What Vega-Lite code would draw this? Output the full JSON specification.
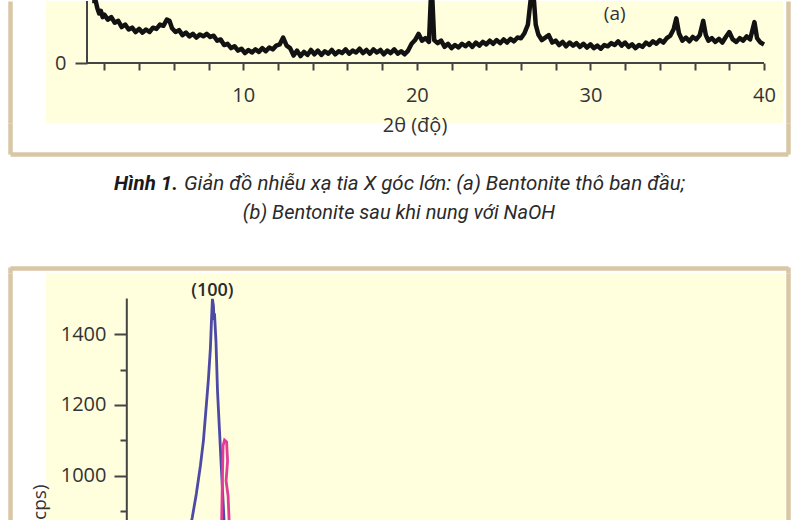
{
"$schema": "https://vega.github.io/schema/vega-lite/v6.json",
"background": "#ffffff",
"padding": {"left": 10, "top": -2, "right": 0, "bottom": 0},
"bounds": "flush",
"spacing": 0,
"config": {"view": {"stroke": null}, "axis": {"minExtent": 0, "grid": false}, "font": "Open Sans"},
"datasets": {
"xrd": [
{"two_theta":1.3,"intensity":130},{"two_theta":1.4,"intensity":112},{"two_theta":1.5,"intensity":100},{"two_theta":1.6,"intensity":88},{"two_theta":1.7,"intensity":80},{"two_theta":1.8,"intensity":84},{"two_theta":1.9,"intensity":74},{"two_theta":2.0,"intensity":78},{"two_theta":2.2,"intensity":70},{"two_theta":2.4,"intensity":74},{"two_theta":2.6,"intensity":65},{"two_theta":2.8,"intensity":68},{"two_theta":3.0,"intensity":58},{"two_theta":3.2,"intensity":62},{"two_theta":3.4,"intensity":54},{"two_theta":3.6,"intensity":57},{"two_theta":3.8,"intensity":50},{"two_theta":4.0,"intensity":55},{"two_theta":4.2,"intensity":49},{"two_theta":4.4,"intensity":54},{"two_theta":4.6,"intensity":50},{"two_theta":4.8,"intensity":57},{"two_theta":5.0,"intensity":55},{"two_theta":5.2,"intensity":62},{"two_theta":5.4,"intensity":60},{"two_theta":5.6,"intensity":70},{"two_theta":5.75,"intensity":68},{"two_theta":5.9,"intensity":56},{"two_theta":6.1,"intensity":50},{"two_theta":6.3,"intensity":53},{"two_theta":6.5,"intensity":45},{"two_theta":6.7,"intensity":49},{"two_theta":6.9,"intensity":43},{"two_theta":7.1,"intensity":47},{"two_theta":7.3,"intensity":41},{"two_theta":7.5,"intensity":46},{"two_theta":7.7,"intensity":43},{"two_theta":7.9,"intensity":47},{"two_theta":8.1,"intensity":42},{"two_theta":8.3,"intensity":44},{"two_theta":8.5,"intensity":36},{"two_theta":8.7,"intensity":38},{"two_theta":8.9,"intensity":29},{"two_theta":9.1,"intensity":31},{"two_theta":9.3,"intensity":24},{"two_theta":9.5,"intensity":27},{"two_theta":9.7,"intensity":20},{"two_theta":9.9,"intensity":23},{"two_theta":10.1,"intensity":16},{"two_theta":10.3,"intensity":21},{"two_theta":10.5,"intensity":17},{"two_theta":10.7,"intensity":22},{"two_theta":10.9,"intensity":18},{"two_theta":11.1,"intensity":24},{"two_theta":11.3,"intensity":19},{"two_theta":11.5,"intensity":25},{"two_theta":11.7,"intensity":22},{"two_theta":11.9,"intensity":28},{"two_theta":12.1,"intensity":30},{"two_theta":12.3,"intensity":41},{"two_theta":12.5,"intensity":28},{"two_theta":12.7,"intensity":24},{"two_theta":12.9,"intensity":12},{"two_theta":13.1,"intensity":20},{"two_theta":13.3,"intensity":11},{"two_theta":13.5,"intensity":18},{"two_theta":13.7,"intensity":13},{"two_theta":13.9,"intensity":21},{"two_theta":14.1,"intensity":14},{"two_theta":14.3,"intensity":20},{"two_theta":14.5,"intensity":13},{"two_theta":14.7,"intensity":19},{"two_theta":14.9,"intensity":15},{"two_theta":15.1,"intensity":21},{"two_theta":15.3,"intensity":14},{"two_theta":15.5,"intensity":19},{"two_theta":15.7,"intensity":16},{"two_theta":15.9,"intensity":22},{"two_theta":16.1,"intensity":15},{"two_theta":16.3,"intensity":20},{"two_theta":16.5,"intensity":17},{"two_theta":16.7,"intensity":23},{"two_theta":16.9,"intensity":16},{"two_theta":17.1,"intensity":21},{"two_theta":17.3,"intensity":15},{"two_theta":17.5,"intensity":22},{"two_theta":17.7,"intensity":17},{"two_theta":17.9,"intensity":21},{"two_theta":18.1,"intensity":14},{"two_theta":18.3,"intensity":20},{"two_theta":18.5,"intensity":16},{"two_theta":18.7,"intensity":22},{"two_theta":18.9,"intensity":15},{"two_theta":19.1,"intensity":19},{"two_theta":19.3,"intensity":14},{"two_theta":19.5,"intensity":20},{"two_theta":19.7,"intensity":31},{"two_theta":19.9,"intensity":37},{"two_theta":20.1,"intensity":47},{"two_theta":20.3,"intensity":36},{"two_theta":20.5,"intensity":40},{"two_theta":20.7,"intensity":34},{"two_theta":20.8,"intensity":120},{"two_theta":20.85,"intensity":200},{"two_theta":20.9,"intensity":120},{"two_theta":21.0,"intensity":37},{"two_theta":21.2,"intensity":32},{"two_theta":21.4,"intensity":36},{"two_theta":21.6,"intensity":26},{"two_theta":21.8,"intensity":31},{"two_theta":22.0,"intensity":24},{"two_theta":22.2,"intensity":29},{"two_theta":22.4,"intensity":25},{"two_theta":22.6,"intensity":31},{"two_theta":22.8,"intensity":27},{"two_theta":23.0,"intensity":32},{"two_theta":23.2,"intensity":26},{"two_theta":23.4,"intensity":33},{"two_theta":23.6,"intensity":28},{"two_theta":23.8,"intensity":34},{"two_theta":24.0,"intensity":30},{"two_theta":24.2,"intensity":36},{"two_theta":24.4,"intensity":31},{"two_theta":24.6,"intensity":37},{"two_theta":24.8,"intensity":32},{"two_theta":25.0,"intensity":38},{"two_theta":25.2,"intensity":33},{"two_theta":25.4,"intensity":39},{"two_theta":25.6,"intensity":35},{"two_theta":25.8,"intensity":41},{"two_theta":26.0,"intensity":40},{"two_theta":26.2,"intensity":48},{"two_theta":26.4,"intensity":62},{"two_theta":26.55,"intensity":110},{"two_theta":26.65,"intensity":300},{"two_theta":26.75,"intensity":110},{"two_theta":26.85,"intensity":62},{"two_theta":27.0,"intensity":46},{"two_theta":27.2,"intensity":37},{"two_theta":27.4,"intensity":41},{"two_theta":27.6,"intensity":45},{"two_theta":27.8,"intensity":33},{"two_theta":28.0,"intensity":36},{"two_theta":28.2,"intensity":29},{"two_theta":28.4,"intensity":34},{"two_theta":28.6,"intensity":27},{"two_theta":28.8,"intensity":33},{"two_theta":29.0,"intensity":28},{"two_theta":29.2,"intensity":32},{"two_theta":29.4,"intensity":26},{"two_theta":29.6,"intensity":31},{"two_theta":29.8,"intensity":25},{"two_theta":30.0,"intensity":30},{"two_theta":30.2,"intensity":24},{"two_theta":30.4,"intensity":28},{"two_theta":30.6,"intensity":23},{"two_theta":30.8,"intensity":29},{"two_theta":31.0,"intensity":27},{"two_theta":31.2,"intensity":32},{"two_theta":31.4,"intensity":29},{"two_theta":31.6,"intensity":35},{"two_theta":31.8,"intensity":28},{"two_theta":32.0,"intensity":33},{"two_theta":32.2,"intensity":26},{"two_theta":32.4,"intensity":30},{"two_theta":32.6,"intensity":24},{"two_theta":32.8,"intensity":29},{"two_theta":33.0,"intensity":26},{"two_theta":33.2,"intensity":33},{"two_theta":33.4,"intensity":29},{"two_theta":33.6,"intensity":35},{"two_theta":33.8,"intensity":31},{"two_theta":34.0,"intensity":37},{"two_theta":34.2,"intensity":33},{"two_theta":34.4,"intensity":40},{"two_theta":34.6,"intensity":44},{"two_theta":34.8,"intensity":55},{"two_theta":34.95,"intensity":72},{"two_theta":35.1,"intensity":48},{"two_theta":35.3,"intensity":36},{"two_theta":35.5,"intensity":41},{"two_theta":35.7,"intensity":35},{"two_theta":35.9,"intensity":42},{"two_theta":36.1,"intensity":38},{"two_theta":36.3,"intensity":45},{"two_theta":36.5,"intensity":68},{"two_theta":36.65,"intensity":45},{"two_theta":36.8,"intensity":36},{"two_theta":37.0,"intensity":40},{"two_theta":37.2,"intensity":34},{"two_theta":37.4,"intensity":39},{"two_theta":37.6,"intensity":33},{"two_theta":37.8,"intensity":42},{"two_theta":38.0,"intensity":50},{"two_theta":38.2,"intensity":38},{"two_theta":38.4,"intensity":34},{"two_theta":38.6,"intensity":40},{"two_theta":38.8,"intensity":36},{"two_theta":39.0,"intensity":43},{"two_theta":39.2,"intensity":38},{"two_theta":39.45,"intensity":66},{"two_theta":39.6,"intensity":40},{"two_theta":39.8,"intensity":33},{"two_theta":40.0,"intensity":30}
],
"saxs": [
{"sample":"A","i":1,"two_theta":1.844,"intensity":845},{"sample":"A","i":2,"two_theta":1.885,"intensity":882},{"sample":"A","i":3,"two_theta":1.94,"intensity":949},{"sample":"A","i":4,"two_theta":1.995,"intensity":1028},{"sample":"A","i":5,"two_theta":2.036,"intensity":1099},{"sample":"A","i":6,"two_theta":2.077,"intensity":1203},{"sample":"A","i":7,"two_theta":2.104,"intensity":1273},{"sample":"A","i":8,"two_theta":2.131,"intensity":1361},{"sample":"A","i":9,"two_theta":2.145,"intensity":1437},{"sample":"A","i":10,"two_theta":2.158,"intensity":1499},{"sample":"A","i":11,"two_theta":2.172,"intensity":1479},{"sample":"A","i":12,"two_theta":2.179,"intensity":1440},{"sample":"A","i":13,"two_theta":2.186,"intensity":1458},{"sample":"A","i":14,"two_theta":2.206,"intensity":1380},{"sample":"A","i":15,"two_theta":2.227,"intensity":1239},{"sample":"A","i":16,"two_theta":2.254,"intensity":1127},{"sample":"A","i":17,"two_theta":2.281,"intensity":1014},{"sample":"A","i":18,"two_theta":2.309,"intensity":901},{"sample":"A","i":19,"two_theta":2.322,"intensity":845},
{"sample":"B","i":1,"two_theta":2.281,"intensity":845},{"sample":"B","i":2,"two_theta":2.295,"intensity":1014},{"sample":"B","i":3,"two_theta":2.302,"intensity":1085},{"sample":"B","i":4,"two_theta":2.322,"intensity":1101},{"sample":"B","i":5,"two_theta":2.35,"intensity":1096},{"sample":"B","i":6,"two_theta":2.363,"intensity":1042},{"sample":"B","i":7,"two_theta":2.343,"intensity":986},{"sample":"B","i":8,"two_theta":2.37,"intensity":944},{"sample":"B","i":9,"two_theta":2.384,"intensity":873},{"sample":"B","i":10,"two_theta":2.391,"intensity":845}
],
"caption": [
{"line":1,"seg":"lead","text":"Hình 1."},
{"line":1,"seg":"body","text":"Giản đồ nhiễu xạ tia X góc lớn: (a) Bentonite thô ban đầu;"},
{"line":2,"seg":"body","text":"(b) Bentonite sau khi nung với NaOH"}
]
},
"vconcat": [
{
 "width": 737, "height": 122,
 "view": {"fill": "#fffedd", "stroke": null},
 "layer": [
  {"data": {"name": "xrd"},
   "mark": {"type": "line", "color": "#121212", "strokeWidth": 4.5, "strokeJoin": "round"},
   "encoding": {
    "x": {"field": "two_theta", "type": "quantitative", "scale": {"domain": [-1.362, 41.095], "nice": false, "zero": false},
          "axis": {"orient": "bottom", "offset": -60, "values": [2,4,6,8,10,12,14,16,18,20,22,24,26,28,30,32,34,36,38,40], "labelExpr": "datum.value % 10 === 0 ? datum.label : ''", "domain": false, "tickSize": 7, "tickWidth": 2, "tickColor": "#444444", "labelFont": "Open Sans", "labelFontSize": 20, "labelColor": "#333333", "labelPadding": 15, "labelFlush": false, "labelOverlap": false, "labelBound": false, "title": "2θ (độ)", "titleFont": "Open Sans", "titleFontSize": 20, "titleFontWeight": "normal", "titleColor": "#333333", "titlePadding": 10}},
    "y": {"field": "intensity", "type": "quantitative", "scale": {"domain": [-96.77, 100], "nice": false, "zero": false, "clamp": true},
          "axis": {"orient": "left", "offset": -41, "values": [0], "domain": false, "tickSize": 12, "tickWidth": 2, "tickColor": "#444444", "labelFont": "Open Sans", "labelFontSize": 20, "labelColor": "#333333", "labelPadding": 9, "title": null}}
   }},
  {"data": {"values": [{}]},
   "mark": {"type": "rule", "color": "#444444", "strokeWidth": 2},
   "encoding": {
    "x": {"datum": 1, "type": "quantitative", "scale": {"domain": [-1.362, 41.095], "nice": false, "zero": false}, "axis": null},
    "x2": {"datum": 40},
    "y": {"datum": 0, "type": "quantitative", "scale": {"domain": [-96.77, 100], "nice": false, "zero": false, "clamp": true},
          "axis": {"orient": "left", "offset": 36, "domain": true, "domainColor": "#d8c7a6", "domainWidth": 4.5, "ticks": false, "labels": false, "title": null}}
   }},
  {"data": {"values": [{}]},
   "mark": {"type": "rule", "color": "#444444", "strokeWidth": 2},
   "encoding": {
    "x": {"datum": 1, "type": "quantitative", "scale": {"domain": [-1.362, 41.095], "nice": false, "zero": false}, "axis": null},
    "y": {"datum": 0, "type": "quantitative", "scale": {"domain": [-96.77, 100], "nice": false, "zero": false, "clamp": true},
          "axis": {"orient": "right", "offset": 5, "domain": true, "domainColor": "#d8c7a6", "domainWidth": 4.5, "ticks": false, "labels": false, "title": null}},
    "y2": {"datum": 100}
   }},
  {"data": {"values": [{}]},
   "mark": {"type": "text", "text": "(a)", "font": "Open Sans", "fontSize": 19, "color": "#333333"},
   "encoding": {
    "x": {"datum": 31.4, "type": "quantitative", "scale": {"domain": [-1.362, 41.095], "nice": false, "zero": false}, "axis": null},
    "y": {"datum": 79, "type": "quantitative", "scale": {"domain": [-96.77, 100], "nice": false, "zero": false, "clamp": true}, "axis": null}
   }}
 ],
 "resolve": {"axis": {"x": "independent", "y": "independent"}}
},
{
 "width": 742, "height": 150,
 "data": {"name": "caption"},
 "layer": [
  {"transform": [{"filter": "datum.line === 2"}],
   "mark": {"type": "text", "align": "center", "baseline": "middle", "font": "Roboto", "fontStyle": "italic", "fontSize": 20, "color": "#2a2a2a"},
   "encoding": {
    "text": {"field": "text"},
    "x": {"datum": 0.5, "type": "quantitative", "scale": {"domain": [0, 1], "range": [-36, 742]},
          "axis": {"orient": "top", "offset": -31, "domain": true, "domainColor": "#d8c7a6", "domainWidth": 4.5, "ticks": false, "labels": false, "title": null}},
    "y": {"field": "line", "type": "quantitative", "scale": {"domain": [4.069, -1.103], "nice": false, "zero": false},
          "axis": {"orient": "left", "offset": 36, "domain": true, "domainColor": "#d8c7a6", "domainWidth": 4.5, "domainDash": [6, 113, 31], "ticks": false, "labels": false, "title": null}}
   }},
  {"transform": [{"filter": "datum.line === 1 && datum.seg === 'body'"}],
   "mark": {"type": "text", "align": "left", "baseline": "middle", "dx": -215, "font": "Roboto", "fontStyle": "italic", "fontSize": 20.5, "color": "#2a2a2a"},
   "encoding": {
    "text": {"field": "text"},
    "x": {"datum": 0.5, "type": "quantitative", "scale": {"domain": [0, 1], "range": [-36, 742]},
          "axis": {"orient": "bottom", "offset": -5, "domain": true, "domainColor": "#d8c7a6", "domainWidth": 4.5, "ticks": false, "labels": false, "title": null}},
    "y": {"field": "line", "type": "quantitative", "scale": {"domain": [4.069, -1.103], "nice": false, "zero": false},
          "axis": {"orient": "right", "offset": 0, "domain": true, "domainColor": "#d8c7a6", "domainWidth": 4.5, "domainDash": [6, 113, 31], "ticks": false, "labels": false, "title": null}}
   }},
  {"transform": [{"filter": "datum.seg === 'lead'"}],
   "mark": {"type": "text", "align": "right", "baseline": "middle", "dx": -221, "font": "Roboto", "fontStyle": "italic", "fontWeight": "bold", "fontSize": 20.5, "color": "#1a1a1a"},
   "encoding": {
    "text": {"field": "text"},
    "x": {"datum": 0.5, "type": "quantitative", "scale": {"domain": [0, 1], "range": [-36, 742]}, "axis": null},
    "y": {"field": "line", "type": "quantitative", "scale": {"domain": [4.069, -1.103], "nice": false, "zero": false}, "axis": null}
   }}
 ],
 "resolve": {"axis": {"x": "independent", "y": "independent"}}
},
{
 "width": 739, "height": 248,
 "view": {"fill": "#fffedd", "stroke": null},
 "layer": [
  {"data": {"name": "saxs"},
   "transform": [{"filter": "datum.sample === 'A'"}],
   "mark": {"type": "line", "color": "#4c4aa6", "strokeWidth": 2.8, "clip": true},
   "encoding": {
    "order": {"field": "i", "type": "quantitative"},
    "x": {"field": "two_theta", "type": "quantitative", "scale": {"domain": [-0.093, 9.903], "nice": false, "zero": false}, "axis": null},
    "y": {"field": "intensity", "type": "quantitative", "scale": {"domain": [873, 1572], "nice": false, "zero": false},
          "axis": {"orient": "left", "offset": -80, "values": [1000, 1200, 1400], "format": "d", "domain": false, "tickSize": 12, "tickWidth": 2, "tickColor": "#444444", "labelFont": "Open Sans", "labelFontSize": 20, "labelColor": "#333333", "labelPadding": 8, "title": "Cường độ (cps)", "titleFont": "Open Sans", "titleFontSize": 19, "titleFontWeight": "normal", "titleColor": "#333333", "titleAngle": 270, "titleAlign": "right", "titleBaseline": "middle", "titleX": -87, "titleY": 211}}
   }},
  {"data": {"name": "saxs"},
   "transform": [{"filter": "datum.sample === 'B'"}],
   "mark": {"type": "line", "color": "#e03c98", "strokeWidth": 2.8, "clip": true},
   "encoding": {
    "order": {"field": "i", "type": "quantitative"},
    "x": {"field": "two_theta", "type": "quantitative", "scale": {"domain": [-0.093, 9.903], "nice": false, "zero": false}, "axis": null},
    "y": {"field": "intensity", "type": "quantitative", "scale": {"domain": [873, 1572], "nice": false, "zero": false},
          "axis": {"orient": "right", "offset": 3, "domain": true, "domainColor": "#d8c7a6", "domainWidth": 4.5, "ticks": false, "labels": false, "title": null}}
   }},
  {"data": {"values": [{}]},
   "mark": {"type": "rule", "color": "#444444", "strokeWidth": 2},
   "encoding": {
    "x": {"datum": 1, "type": "quantitative", "scale": {"domain": [-0.093, 9.903], "nice": false, "zero": false}, "axis": null},
    "y": {"datum": 1500, "type": "quantitative", "scale": {"domain": [873, 1572], "nice": false, "zero": false},
          "axis": {"orient": "left", "offset": -80, "values": [900, 1100, 1300], "domain": false, "labels": false, "tickSize": 6, "tickWidth": 2, "tickColor": "#444444", "title": null}},
    "y2": {"datum": 873}
   }},
  {"data": {"values": [{}]},
   "mark": {"type": "text", "text": "(100)", "font": "Open Sans", "fontSize": 18, "fontWeight": 600, "color": "#2a2a2a", "baseline": "middle", "dy": -8},
   "encoding": {
    "x": {"datum": 2.158, "type": "quantitative", "scale": {"domain": [-0.093, 9.903], "nice": false, "zero": false}, "axis": null},
    "y": {"datum": 1500, "type": "quantitative", "scale": {"domain": [873, 1572], "nice": false, "zero": false},
          "axis": {"orient": "left", "offset": 36, "domain": true, "domainColor": "#d8c7a6", "domainWidth": 4.5, "ticks": false, "labels": false, "title": null}}
   }}
 ],
 "resolve": {"axis": {"y": "independent"}}
}
]
}
